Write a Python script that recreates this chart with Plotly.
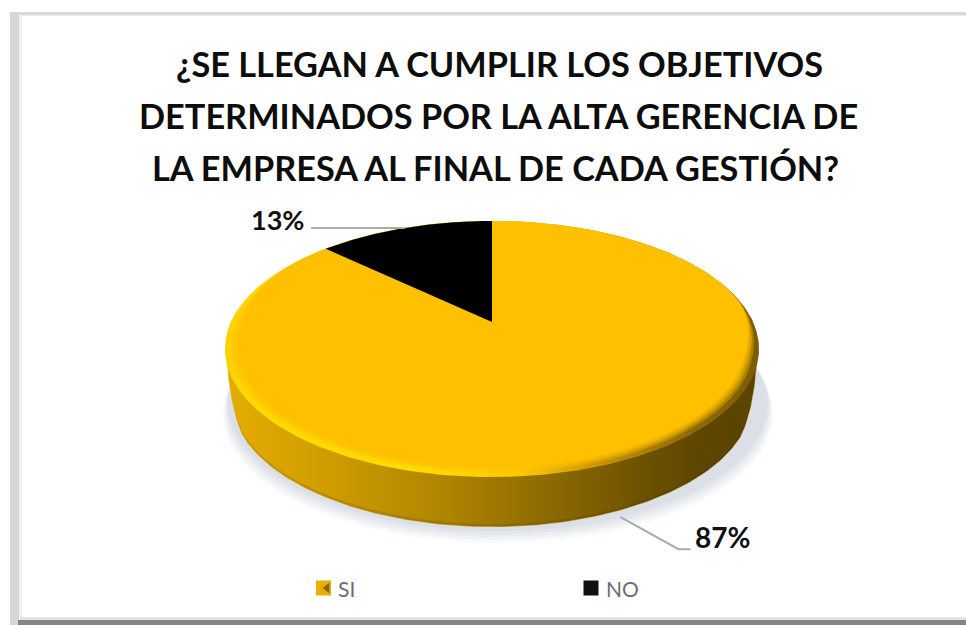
import numpy as np
import plotly.graph_objects as go

# Chart content
title_lines = [
    "¿SE LLEGAN A CUMPLIR LOS OBJETIVOS",
    "DETERMINADOS POR LA ALTA GERENCIA DE",
    "LA EMPRESA AL FINAL DE CADA GESTIÓN?",
]
categories = ["SI", "NO"]
values = [87, 13]
slice_colors = ["#FFC000", "#000000"]

# Perspective disc: canvas is addressed in pixels, y pointing down
CX, APEX_Y, RX = 492.0, 322.0, 261.0
PERSP_C, PERSP_A = 0.211, -54.4
DEPTH = 50.0
FONT = "Lato"


def project(angle_deg, radius=1.0, drop=0.0, widen=1.0):
    """Map clockwise-from-top angles on the unit disc to canvas pixels."""
    t = np.radians(angle_deg)
    u, v = radius * np.sin(t), radius * np.cos(t)
    d = 1 + PERSP_C * v
    return CX + widen * RX * u / d, (PERSP_A * v + APEX_Y) / d + drop


def smooth(s):
    s = np.clip(s, 0, 1)
    return s * s * (3 - 2 * s)


def bevel_radius(angle_deg, width):
    """Inner radius of the bevel: none at the back, full width from the sides forward."""
    wrapped = (np.asarray(angle_deg) + 180) % 360 - 180
    # The lit left side shows its bevel earlier than the shaded right side
    ramp = np.where(wrapped < 0, smooth((-wrapped - 50) / 50), smooth((wrapped - 72) / 40))
    return 1 - width * ramp


def arc(start, stop, n=240):
    return np.linspace(start, stop, n)


def area(x, y, **kw):
    return go.Scatter(x=x, y=y, mode="lines", fill="toself", line=dict(width=0),
                      hoverinfo="skip", showlegend=False, **kw)


def hgrad(stops):
    x0, x1 = CX - 272, CX + 272
    scale = [[(px - x0) / (x1 - x0), c] for px, c in stops]
    return dict(type="horizontal", colorscale=scale, start=x0, stop=x1)


def wall_outline(angles, depth=DEPTH):
    """Lower edge of the side wall, growing out of the disc's widest points."""
    off_side = 90 - np.abs(angles - 180)
    s = smooth(off_side / 30)
    return project(angles, drop=depth * s, widen=1 - 0.025 * s)


fig = go.Figure()
full = arc(0, 360, 361)

# Soft drop shadow beneath the disc
for grow, drop, alpha in [(1.03, 66, 0.12), (1.025, 63, 0.16), (1.02, 60, 0.20),
                          (1.015, 57, 0.26), (1.01, 54, 0.32)]:
    sx, sy = project(full, drop=drop, widen=grow)
    fig.add_trace(area(sx + 6, sy, fillcolor=f"rgba(205,210,222,{alpha})"))

# Side wall of the disc
back = arc(-90, 90)
front = arc(90, 270)
bx, by = project(back)
fx, fy = wall_outline(front)
side_x = np.concatenate([bx, fx])
side_y = np.concatenate([by, fy])
fig.add_trace(go.Scatter(
    x=side_x, y=side_y, mode="lines", fill="toself", hoverinfo="skip", showlegend=False,
    line=dict(width=1, color="rgba(245,225,170,0.55)"),
    fillgradient=hgrad([(220, "#E6AE00"), (330, "#CF9C00"), (450, "#AD8300"), (560, "#8A6800"),
                        (640, "#6E5200"), (700, "#5E4600"), (764, "#5A4300")]),
))

# Slightly darker lip along the bottom of the wall
lip_out_x, lip_out_y = wall_outline(front)
lip_in_x, lip_in_y = wall_outline(front[::-1], depth=DEPTH - 3)
fig.add_trace(area(np.concatenate([lip_out_x, lip_in_x]), np.concatenate([lip_out_y, lip_in_y]),
                   fillcolor="rgba(60,40,0,0.15)"))

# Bevelled rim
rx_, ry_ = project(full)
fig.add_trace(go.Scatter(
    x=rx_, y=ry_, mode="lines", fill="toself", line=dict(width=0), hoverinfo="skip", showlegend=False,
    fillgradient=hgrad([(220, "#FFCE00"), (250, "#FFD800"), (420, "#FFDC00"), (520, "#FFC800"),
                        (610, "#C29000"), (690, "#8F6C00"), (764, "#7A5B00")]),
))

# Blend from the rim into the flat top
for width, alpha in [(0.022, 0.35), (0.032, 0.45), (0.042, 0.6)]:
    ix, iy = project(full, radius=bevel_radius(full, width))
    fig.add_trace(area(ix, iy, fillcolor=f"rgba(255,192,0,{alpha})"))

# Slices on the top face, clockwise from twelve o'clock
shares = np.array(values, dtype=float) / sum(values) * 360
edges = np.concatenate([[0.0], np.cumsum(shares)])
midpoints = (edges[:-1] + edges[1:]) / 2
for cat, color, a0, a1 in zip(categories, slice_colors, edges[:-1], edges[1:]):
    sweep = arc(a0, a1, 240)
    wx, wy = project(sweep, radius=bevel_radius(sweep, 0.052))
    ax, ay = project(np.array([0.0]), radius=0.0)
    fig.add_trace(go.Scatter(
        x=np.concatenate([ax, wx, ax]), y=np.concatenate([ay, wy, ay]),
        mode="lines", fill="toself", fillcolor=color, line=dict(width=0),
        name=cat, hoverinfo="name", showlegend=False,
    ))

# Data labels with leader lines anchored on each slice's rim midpoint
LEADER = "#ABABAB"
label_layout = {
    "SI": dict(drop=DEPTH + 6, elbow=(58, 32), tail=(70, 32), label=(722, 537), size=28),
    "NO": dict(drop=0, elbow=(-94, 0), tail=(-94, 0), label=(277, 219), size=27),
}
annotations = []
for cat, value, mid in zip(categories, values, midpoints):
    spec = label_layout[cat]
    lx, ly = project(np.array([mid]), drop=spec["drop"])
    lx, ly = float(lx[0]), float(ly[0])
    fig.add_trace(go.Scatter(
        x=[lx, lx + spec["elbow"][0], lx + spec["tail"][0]],
        y=[ly, ly + spec["elbow"][1], ly + spec["tail"][1]],
        mode="lines", line=dict(color=LEADER, width=2), hoverinfo="skip", showlegend=False,
    ))
    annotations.append(dict(
        x=spec["label"][0], y=spec["label"][1],
        text=f"<b>{value}%</b>", showarrow=False, xanchor="center", yanchor="middle",
        font=dict(family=FONT, size=spec["size"], color="#111111"),
    ))

# Legend
legend_items = [
    dict(marker_x=323.5, text_x=346, marker_color="#E8AE00"),
    dict(marker_x=591, text_x=622, marker_color="#111111"),
]
LEGEND_Y = 588
for cat, item in zip(categories, legend_items):
    fig.add_trace(go.Scatter(
        x=[item["marker_x"]], y=[LEGEND_Y], mode="markers", hoverinfo="skip", showlegend=False,
        marker=dict(symbol="square", size=15, color=item["marker_color"]),
    ))
    annotations.append(dict(
        x=item["text_x"], y=LEGEND_Y, text=cat, showarrow=False, xanchor="center", yanchor="middle",
        font=dict(family=FONT, size=21, color="#6E6E6E"),
    ))
fig.add_trace(go.Scatter(
    x=[327], y=[LEGEND_Y], mode="markers", hoverinfo="skip", showlegend=False,
    marker=dict(symbol="triangle-left", size=9, color="#8A6800"),
))

# Title, set line by line for its wide leading
for line, x, y in zip(title_lines, [499, 498.5, 495.5], [63, 115, 167]):
    annotations.append(dict(
        x=x, y=y, text=f"<b>{line}</b>", showarrow=False, xanchor="center", yanchor="middle",
        font=dict(family=FONT, size=34.3, color="#0D0D0D"),
    ))

# Chart-area frame: light top and left edges, heavy bottom edge
shapes = [
    dict(type="rect", x0=10, x1=966, y0=12, y1=15.5, fillcolor="#DADADA", line_width=0, layer="below"),
    dict(type="rect", x0=10, x1=19, y0=12, y1=625, fillcolor="#D6D6D6", line_width=0, layer="below"),
    dict(type="rect", x0=19, x1=22, y0=15, y1=618, fillcolor="#F0F0F0", line_width=0, layer="below"),
    dict(type="rect", x0=20, x1=966, y0=617, y1=620, fillcolor="#E4E4E4", line_width=0, layer="below"),
    dict(type="rect", x0=18, x1=966, y0=620, y1=625, fillcolor="#858585", line_width=0, layer="below"),
]

fig.update_layout(
    width=966, height=625, autosize=False,
    margin=dict(l=0, r=0, t=0, b=0),
    paper_bgcolor="#FFFFFF", plot_bgcolor="#FFFFFF",
    showlegend=False,
    xaxis=dict(range=[0, 966], visible=False, fixedrange=True),
    yaxis=dict(range=[625, 0], visible=False, fixedrange=True),
    annotations=annotations,
    shapes=shapes,
)

fig.write_html("out.html", config=dict(displayModeBar=False))
